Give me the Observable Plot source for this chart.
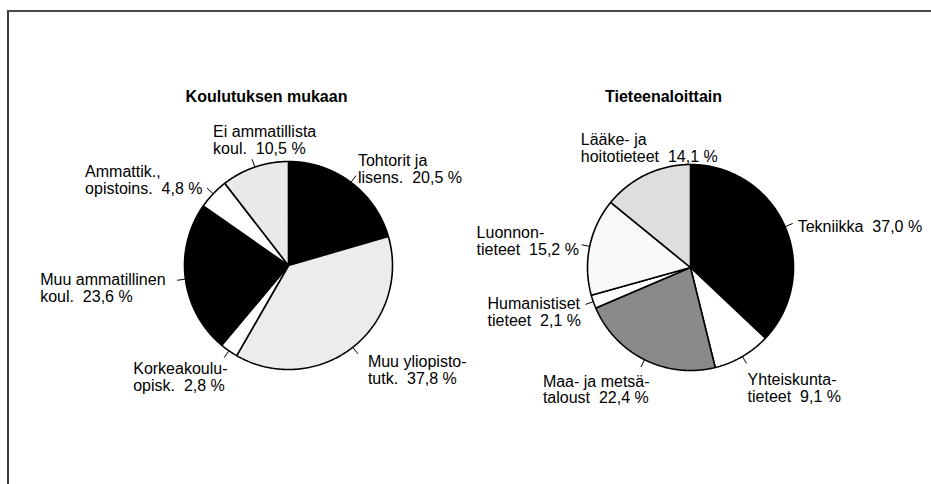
<!DOCTYPE html>
<html>
<head>
<meta charset="utf-8">
<script src="https://cdn.jsdelivr.net/npm/d3@7"></script>
<script src="https://cdn.jsdelivr.net/npm/@observablehq/plot@0.6"></script>
<style>
  html, body { margin: 0; padding: 0; background: #fff; }
  #wrap { position: relative; width: 931px; height: 484px; overflow: hidden; }
  #chart { position: absolute; left: 0; top: 0; }
  #frame { position: absolute; left: 7px; top: 10px; right: -5px; bottom: -5px;
           border-top: 2px solid #4a4a4a; border-left: 2px solid #3a3a3a; pointer-events: none; }
</style>
</head>
<body>
<div id="wrap"><div id="chart"></div><div id="frame"></div></div>
<script>
// ---- data ----
const title1 = "Koulutuksen mukaan";
const names1 = ["Tohtorit ja\nlisens.", "Muu yliopisto-\ntutk.", "Korkeakoulu-\nopisk.", "Muu ammatillinen\nkoul.", "Ammattik.,\nopistoins.", "Ei ammatillista\nkoul."];
const values1 = [20.5, 37.8, 2.8, 23.6, 4.8, 10.5];

const title2 = "Tieteenaloittain";
const names2 = ["Tekniikka", "Yhteiskunta-\ntieteet", "Maa- ja metsä-\ntaloust", "Humanistiset\ntieteet", "Luonnon-\ntieteet", "Lääke- ja\nhoitotieteet"];
const values2 = [37.0, 9.1, 22.4, 2.1, 15.2, 14.1];

// ---- styles / layout ----
const fills1 = ["#000000", "#ececec", "#ffffff", "#000000", "#ffffff", "#e9e9e9"];
const fills2 = ["#000000", "#ffffff", "#8a8a8a", "#ffffff", "#f9f9f9", "#dedede"];
const nudges1 = [[2, -7], [10, 16], [-91, 19], [-137, 8], [-122, -8], [-39, -19]];
const nudges2 = [[5, 3.5], [1, 24.5], [-98, 22.5], [-98, 7.6], [-105, -4], [-62, -19]];
const leaders1 = [true, true, true, true, true, true];
const leaders2 = [true, true, true, true, true, false];

const W = 931, H = 484;
const pies = [
  {key: "a", title: title1, names: names1, values: values1, fills: fills1, nudges: nudges1, leaders: leaders1, cx: 288, cy: 265, r: 104, tdx: -22, tdy: -168.5},
  {key: "b", title: title2, names: names2, values: values2, fills: fills2, nudges: nudges2, leaders: leaders2, cx: 690, cy: 267, r: 103, tdx: -27, tdy: -170.5}
];

const fmt = v => v.toFixed(1).replace(".", ",");

const polys = [], labels = [], leaders = [], titles = [];
for (const p of pies) {
  const arcs = d3.pie().sort(null).value(d => d)(p.values);
  const pt = (a, rr) => ({x: p.cx + rr * Math.sin(a), y: p.cy - rr * Math.cos(a)});
  arcs.forEach((arc, i) => {
    const id = p.key + i;
    const pts = [{id, fill: p.fills[i], ...pt(0, 0)}];
    const n = Math.max(2, Math.ceil((arc.endAngle - arc.startAngle) / 0.01));
    for (let k = 0; k <= n; k++) {
      const a = arc.startAngle + (arc.endAngle - arc.startAngle) * k / n;
      pts.push({id, fill: p.fills[i], ...pt(a, p.r)});
    }
    pts.push({id, fill: p.fills[i], ...pt(0, 0)});
    polys.push(...pts);
    const mid = (arc.startAngle + arc.endAngle) / 2;
    const inner = pt(mid, p.r * 1.0), outer = pt(mid, p.r * 1.08);
    if (p.leaders[i]) leaders.push({x1: inner.x, y1: inner.y, x2: outer.x, y2: outer.y});
    labels.push({
      x: outer.x + p.nudges[i][0],
      y: outer.y + p.nudges[i][1],
      text: p.names[i] + "\u00a0 " + fmt(p.values[i]) + " %"
    });
  });
  titles.push({x: p.cx + p.tdx, y: p.cy + p.tdy, text: p.title});
}

const chart = Plot.plot({
  width: W, height: H,
  margin: 0,
  x: {domain: [0, W], range: [0, W], axis: null},
  y: {domain: [0, H], range: [0, H], axis: null},
  color: {type: "identity"},
  style: {fontFamily: "'Liberation Sans', Arial, sans-serif", background: "transparent", color: "#000"},
  marks: [
    Plot.line(polys, {x: "x", y: "y", z: "id", fill: "fill", stroke: "#000", strokeWidth: 1.6, strokeLinejoin: "miter", curve: "linear"}),
    Plot.link(leaders, {x1: "x1", y1: "y1", x2: "x2", y2: "y2", stroke: "#000", strokeWidth: 1}),
    Plot.text(labels, {x: "x", y: "y", text: "text", textAnchor: "start", lineAnchor: "middle", fontSize: 16, lineHeight: 1.06, fill: "#000"}),
    Plot.text(titles, {x: "x", y: "y", text: "text", textAnchor: "middle", lineAnchor: "middle", fontSize: 16, fontWeight: "bold", fill: "#000"})
  ]
});
document.getElementById("chart").appendChild(chart);
</script>
</body>
</html>
